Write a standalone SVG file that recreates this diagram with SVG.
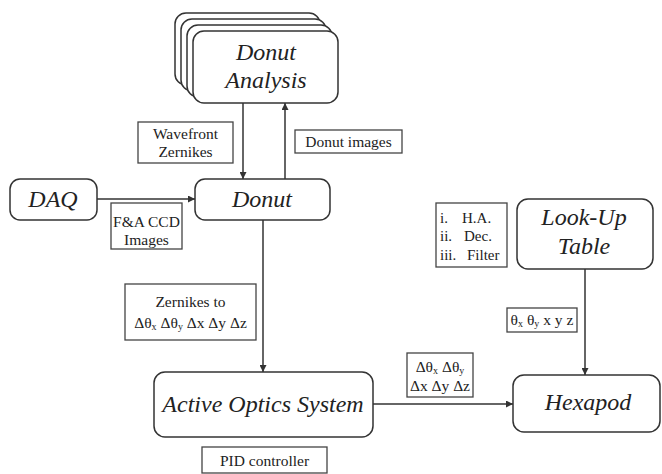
<svg xmlns="http://www.w3.org/2000/svg" width="662" height="474" viewBox="0 0 662 474">
<defs>
<style>
.node{fill:#fff;stroke:#333;stroke-width:1.5}
.lbl{fill:#fff;stroke:#444;stroke-width:1.3}
.nt{font-family:"Liberation Serif",serif;font-style:italic;font-size:24px;fill:#222;text-anchor:middle}
.lt{font-family:"Liberation Serif",serif;font-size:15.5px;fill:#222;text-anchor:middle}
.ls{font-family:"Liberation Serif",serif;font-size:15px;fill:#222}
.sub{font-size:10px}
.conn{fill:none;stroke:#333;stroke-width:1.5}
</style>
<marker id="ah" viewBox="0 0 10 10" refX="10" refY="5" markerWidth="7" markerHeight="7" markerUnits="userSpaceOnUse" orient="auto">
<path d="M0,0 L10,5 L0,10 z" fill="#333"/>
</marker>
</defs>
<rect width="662" height="474" fill="#fff"/>

<g id="connectors">
<line class="conn" x1="243" y1="103" x2="243" y2="179" marker-end="url(#ah)"/>
<line class="conn" x1="285" y1="179" x2="285" y2="103" marker-end="url(#ah)"/>
<line class="conn" x1="97" y1="199" x2="195" y2="199" marker-end="url(#ah)"/>
<line class="conn" x1="263" y1="220" x2="263" y2="372" marker-end="url(#ah)"/>
<line class="conn" x1="373" y1="404" x2="513" y2="404" marker-end="url(#ah)"/>
<line class="conn" x1="585" y1="269" x2="585" y2="375" marker-end="url(#ah)"/>
</g>

<g id="donut-analysis">
<rect class="node" x="175" y="13" width="145" height="72" rx="11"/>
<rect class="node" x="181" y="19" width="145" height="72" rx="11"/>
<rect class="node" x="187" y="25" width="145" height="72" rx="11"/>
<rect class="node" x="193" y="31" width="145" height="72" rx="11"/>
<text class="nt" x="266" y="60">Donut</text>
<text class="nt" x="266" y="88">Analysis</text>
</g>

<g id="daq">
<rect class="node" x="10" y="179" width="87" height="41" rx="10"/>
<text class="nt" x="53" y="207">DAQ</text>
</g>

<g id="donut">
<rect class="node" x="195" y="179" width="135" height="41" rx="10"/>
<text class="nt" x="262" y="207">Donut</text>
</g>

<g id="look-up-table">
<rect class="node" x="517" y="199" width="136" height="70" rx="11"/>
<text class="nt" x="584" y="225">Look-Up</text>
<text class="nt" x="584" y="254">Table</text>
</g>

<g id="active-optics-system">
<rect class="node" x="154" y="372" width="219" height="65" rx="11"/>
<text class="nt" x="263" y="412">Active Optics System</text>
</g>

<g id="hexapod">
<rect class="node" x="513" y="375" width="147" height="57" rx="11"/>
<text class="nt" x="588" y="410">Hexapod</text>
</g>

<g id="label-wavefront">
<rect class="lbl" x="138" y="122" width="95" height="41"/>
<text class="lt" x="185.5" y="139">Wavefront</text>
<text class="lt" x="185.5" y="157">Zernikes</text>
</g>

<g id="label-donut-images">
<rect class="lbl" x="295" y="130" width="107" height="23"/>
<text class="lt" x="348.5" y="147">Donut images</text>
</g>

<g id="label-fa-ccd">
<rect class="lbl" x="111" y="203" width="71" height="46"/>
<text class="lt" x="146.5" y="227">F&amp;A CCD</text>
<text class="lt" x="146.5" y="245">Images</text>
</g>

<g id="label-list">
<rect class="lbl" x="436" y="203" width="71" height="64"/>
<text class="ls" x="440" y="223">i.</text>
<text class="ls" x="462" y="223">H.A.</text>
<text class="ls" x="440" y="241">ii.</text>
<text class="ls" x="464" y="241">Dec.</text>
<text class="ls" x="440" y="260">iii.</text>
<text class="ls" x="467" y="260">Filter</text>
</g>

<g id="label-zernikes-to">
<rect class="lbl" x="125" y="284" width="131" height="56"/>
<text class="lt" x="190.5" y="307">Zernikes to</text>
<text class="lt" x="190.5" y="328">Δθ<tspan class="sub" dy="2">x</tspan><tspan dy="-2"> Δθ</tspan><tspan class="sub" dy="2">y</tspan><tspan dy="-2"> Δx Δy Δz</tspan></text>
</g>

<g id="label-theta">
<rect class="lbl" x="507" y="308" width="70" height="24"/>
<text class="lt" x="542" y="325">θ<tspan class="sub" dy="2">x</tspan><tspan dy="-2"> θ</tspan><tspan class="sub" dy="2">y</tspan><tspan dy="-2"> x y z</tspan></text>
</g>

<g id="label-delta">
<rect class="lbl" x="407" y="353" width="66" height="44"/>
<text class="lt" x="440" y="372">Δθ<tspan class="sub" dy="2">x</tspan><tspan dy="-2"> Δθ</tspan><tspan class="sub" dy="2">y</tspan></text>
<text class="lt" x="440" y="391">Δx Δy Δz</text>
</g>

<g id="label-pid">
<rect class="lbl" x="202" y="447" width="125" height="26"/>
<text class="lt" x="264.5" y="466">PID controller</text>
</g>
</svg>
